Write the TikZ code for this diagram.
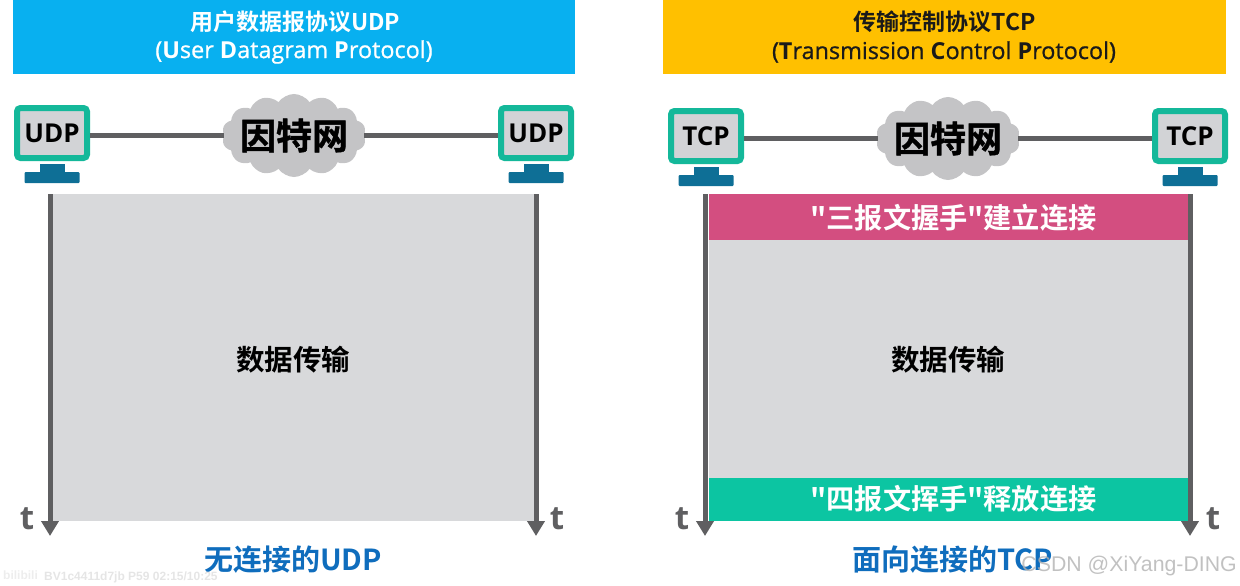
\documentclass[tikz,border=0pt]{standalone}
\usepackage{fontspec}
\usetikzlibrary{arrows.meta,shapes.symbols}
\setmainfont{Open Sans}
\newfontfamily\cjkb{Noto Sans CJK SC Bold}[BoldFont={Noto Sans CJK SC Bold}]
\newfontfamily\cjkh{Noto Sans CJK SC Bold}[FakeBold=1.2]
\newfontfamily\latb{Open Sans}[UprightFont={* Bold}]
\newfontfamily\latm{Open Sans}[FakeBold=0.8]
\newfontfamily\liberA{Liberation Sans}
\definecolor{hblue}{HTML}{08B0F0}
\definecolor{hyellow}{HTML}{FFC000}
\definecolor{mteal}{HTML}{14B89A}
\definecolor{mstand}{HTML}{0E6F96}
\definecolor{mgray}{HTML}{D2D3D6}
\definecolor{cloudgray}{HTML}{C4C4C6}
\definecolor{linegray}{HTML}{5F5F61}
\definecolor{boxgray}{HTML}{D8D9DB}
\definecolor{pinkbar}{HTML}{D34E80}
\definecolor{greenbar}{HTML}{0CC5A2}
\definecolor{capblue}{HTML}{0F6DBD}
\definecolor{darktxt}{HTML}{1A1A1A}
\tikzset{
  x=1pt,y=-1pt,
  headerbox/.style={anchor=north west,inner sep=0pt,outer sep=0pt},
  htitle/.style={font=\cjkb\fontsize{23}{23}\selectfont},
  hsub/.style={font=\latm\fontsize{23.4}{23.4}\selectfont},
  monitor/.style={draw=mteal,line width=6pt,fill=mgray,rounded corners=3.5pt,minimum width=70pt,minimum height=50pt,inner sep=0pt,anchor=center,text=black,font=\latb\fontsize{26}{28}\selectfont},
  neck/.style={fill=mstand,inner sep=0pt,minimum width=25pt,minimum height=9pt},
  base/.style={fill=mstand,rounded corners=1pt,inner sep=0pt,minimum width=55pt,minimum height=11pt},
  netcloud/.style={shape=cloud,cloud puffs=14,cloud puff arc=110,aspect=1.75,fill=cloudgray,inner sep=0pt,minimum width=144pt,minimum height=83pt,text=black},
  cloudtext/.style={font=\cjkh\fontsize{36}{36}\selectfont,text=black},
  wire/.style={line width=5pt,draw=linegray},
  timeline/.style={line width=5pt,draw=linegray,-{Triangle[width=17pt,length=15pt]}},
  panel/.style={fill=boxgray,inner sep=0pt,anchor=north west},
  bar/.style={inner sep=0pt,anchor=north west},
  bartext/.style={inner sep=0pt,text=white,font=\cjkb\fontsize{28.2}{28.2}\selectfont},
  midtext/.style={font=\cjkb\fontsize{28.5}{28.5}\selectfont,text=black},
  tlabel/.style={font=\latb\fontsize{33}{33}\selectfont,text=linegray},
  caption/.style={font=\cjkb\fontsize{29}{29}\selectfont,text=capblue},
}
\begin{document}
\begin{tikzpicture}
\useasboundingbox (0,0) rectangle (1240,586);
% headers
\node[headerbox,fill=hblue,minimum width=562pt,minimum height=74pt] (h1) at (13,0) {};
\node[htitle,text=white] (h1a) at (295,22) {用户数据报协议UDP};
\node[hsub,text=white] (h1b) at (294,52) {(\latb U\latm ser \latb D\latm atagram \latb P\latm rotocol)};
\node[headerbox,fill=hyellow,minimum width=563pt,minimum height=74pt] (h2) at (663,0) {};
\node[htitle,text=darktxt] (h2a) at (945,22) {传输控制协议TCP};
\node[hsub,text=darktxt] (h2b) at (944,52) {(\latb T\latm ransmission \latb C\latm ontrol \latb P\latm rotocol)};
% panels
\node[panel,minimum width=482pt,minimum height=327pt] (p1) at (52,194) {};
\node[panel,minimum width=479pt,minimum height=327pt] (p2) at (709,194) {};
\node[bar,fill=pinkbar,minimum width=479pt,minimum height=46pt] (pink) at (709,194) {};
\node[bartext] (pinkt) at (953.5,218) {"三报文握手"建立连接};
\node[bar,fill=greenbar,minimum width=479pt,minimum height=43pt] (green) at (709,478) {};
\node[bartext] (greent) at (953.5,499) {"四报文挥手"释放连接};
\node[midtext] (d1) at (293,360) {数据传输};
\node[midtext] (d2) at (948,360) {数据传输};
% clouds and monitors
\node[netcloud] (c1) at (294,135.5) {};
\node[netcloud] (c2) at (948,138.5) {};
\node[monitor] (m1) at (52,133) {UDP};
\node[monitor] (m2) at (536,133) {UDP};
\node[monitor] (m3) at (706,136) {TCP};
\node[monitor] (m4) at (1190,136) {TCP};
\draw[wire] (c1.west -| m1.east) -- (c1.west);
\draw[wire] (c1.east) -- (c1.east -| m2.west);
\draw[wire] (c2.west -| m3.east) -- (c2.west);
\draw[wire] (c2.east) -- (c2.east -| m4.west);
\node[cloudtext] (ct1) at (c1) {因特网};
\node[cloudtext] (ct2) at (c2) {因特网};
\foreach \n/\x/\y in {a/52/168,b/536/168,c/706/171,d/1190/171}{
  \node[neck] (n\n) at (\x,\y) {};
  \node[base] (b\n) at (\x,\y+9.5) {};
}
% time axes
\coordinate (t1s) at (50,194); \coordinate (t1e) at (50,536);
\coordinate (t2s) at (536,194); \coordinate (t2e) at (536,536);
\coordinate (t3s) at (705,194); \coordinate (t3e) at (705,536);
\coordinate (t4s) at (1190,194); \coordinate (t4e) at (1190,536);
\draw[timeline] (t1s) -- (t1e);
\draw[timeline] (t2s) -- (t2e);
\draw[timeline] (t3s) -- (t3e);
\draw[timeline] (t4s) -- (t4e);
\node[tlabel] (tl1) at (27,519) {t};
\node[tlabel] (tl2) at (557,519) {t};
\node[tlabel] (tl3) at (682,519) {t};
\node[tlabel] (tl4) at (1213,519) {t};
% captions
\node[caption] (cap1) at (293,560) {无连接的UDP};
\node[caption] (cap2) at (953,560) {面向连接的TCP};
% watermarks
\node[font=\liberA\bfseries\fontsize{12}{12}\selectfont,text=black!10,anchor=west,inner sep=0pt] (w1) at (44,577) {BV1c4411d7jb P59 02:15/10:25};
\node[font=\liberA\bfseries\fontsize{12}{12}\selectfont,text=black!7,anchor=west,inner sep=0pt] (w0) at (3,575) {bilibili};
\node[font=\liberA\fontsize{21.3}{21.3}\selectfont,text=black!30,anchor=east,inner sep=0pt,opacity=.8] (w2) at (1237,566) {CSDN @XiYang-DING};
\end{tikzpicture}
\end{document}
